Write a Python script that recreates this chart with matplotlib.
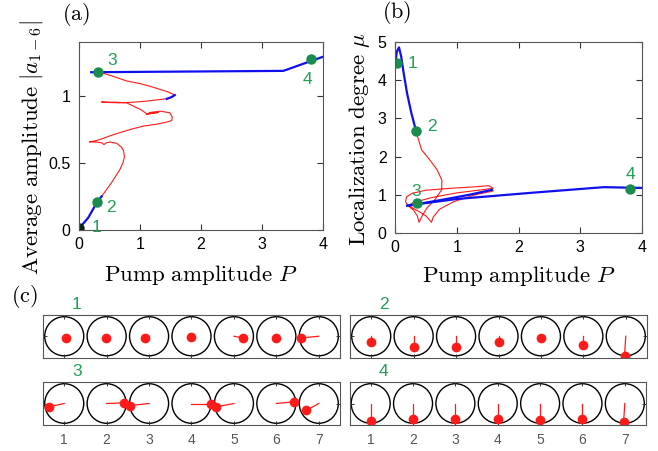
import numpy as np
import matplotlib
matplotlib.use("Agg")
import matplotlib.pyplot as plt
from matplotlib.patches import Circle

plt.rcParams['mathtext.fontset'] = 'cm'
plt.rcParams['font.family'] = ['Liberation Sans', 'DejaVu Sans']

GREEN = '#1a8c4e'
GREEN_TXT = '#1fa055'
RED = '#ff1a1a'
BLUE = '#1010ee'

# ---------- panel (a): average amplitude vs pump ----------
a_blue_low_P = [0.0, 0.15, 0.295, 0.37]
a_blue_low_A = [0.012, 0.09, 0.207, 0.25]
a_red_P = [0.37, 0.45, 0.53, 0.60, 0.67, 0.72, 0.745, 0.73, 0.70, 0.62, 0.51, 0.44, 0.41,
           0.38, 0.29, 0.17, 0.25, 0.34, 0.50, 0.67, 0.85, 1.05, 1.30, 1.45, 1.52, 1.53,
           1.49, 1.33, 1.16, 1.11, 1.20, 1.30, 1.20, 1.11, 1.02, 0.95, 0.78, 0.60, 0.51,
           0.37, 0.45, 0.67, 0.90, 1.11, 1.30, 1.44, 1.52, 1.57, 1.45, 1.33, 1.15, 1.00,
           0.78, 0.62, 0.45, 0.34]
a_red_A = [0.25, 0.30, 0.35, 0.40, 0.45, 0.50, 0.545, 0.59, 0.615, 0.645, 0.655, 0.648, 0.636,
           0.648, 0.655, 0.656, 0.662, 0.673, 0.70, 0.725, 0.75, 0.773, 0.79, 0.805, 0.815, 0.84,
           0.873, 0.885, 0.875, 0.86, 0.868, 0.875, 0.872, 0.865, 0.895, 0.91, 0.947, 0.952, 0.952,
           0.953, 0.950, 0.947, 0.952, 0.96, 0.97, 0.977, 0.99, 1.005, 1.03, 1.047, 1.072, 1.09,
           1.11, 1.135, 1.16, 1.176]
a_blue_mid_P = [1.44, 1.52, 1.57]
a_blue_mid_A = [0.977, 0.99, 1.005]
a_blue_top_P = [0.20, 3.35, 4.0]
a_blue_top_A = [1.175, 1.185, 1.29]
a_pts_P = [0.0, 0.295, 0.31, 3.81]
a_pts_A = [0.012, 0.207, 1.175, 1.27]
a_lab_P = [0.2, 0.44, 0.46, 3.75]
a_lab_A = [0.02, 0.17, 1.26, 1.12]

# ---------- panel (b): localization degree vs pump ----------
b_blue_low_P = [0.0, 0.03, 0.065, 0.10, 0.14, 0.195, 0.265, 0.335, 0.357]
b_blue_low_M = [4.40, 4.75, 4.86, 4.62, 4.19, 3.66, 3.14, 2.71, 2.57]
b_red_P = [0.357, 0.43, 0.56, 0.68, 0.76, 0.755, 0.65, 0.52, 0.44, 0.39,
           0.36, 0.30, 0.22, 0.17, 0.19, 0.28, 0.50, 0.90, 1.30, 1.52, 1.59,
           1.40, 1.00, 0.60, 0.30, 0.22, 0.30, 0.40, 0.50, 0.57, 0.59,
           0.62, 0.72, 0.95, 1.30, 1.59]
b_red_M = [2.57, 2.18, 1.92, 1.66, 1.38, 1.13, 0.88, 0.66, 0.45, 0.28,
           0.45, 0.60, 0.70, 0.82, 0.95, 1.04, 1.12, 1.17, 1.21, 1.24, 1.17,
           1.13, 1.05, 0.93, 0.80, 0.72, 0.64, 0.55, 0.45, 0.32, 0.28,
           0.42, 0.62, 0.82, 1.00, 1.10]
b_blue_mid_P = [0.20, 0.80, 1.20, 1.57]
b_blue_mid_M = [0.71, 0.88, 1.00, 1.13]
b_blue_top_P = [0.20, 1.00, 2.19, 3.38, 4.0]
b_blue_top_M = [0.72, 0.89, 1.05, 1.20, 1.18]
b_pts_P = [0.04, 0.336, 0.35, 3.81]
b_pts_M = [4.45, 2.68, 0.785, 1.16]
b_lab_P = [0.20, 0.52, 0.34, 3.81]
b_lab_M = [4.45, 2.79, 1.09, 1.52]

# ---------- panel (c): oscillator phasors (dx, dy per site) ----------
sites = [1, 2, 3, 4, 5, 6, 7]
st1_dx = [0.04, -0.02, -0.10, -0.02, 0.22, 0.0, -0.43]
st1_dy = [-0.04, -0.04, -0.04, -0.02, -0.04, -0.04, -0.04]
st2_dx = [0.0, 0.0, 0.0, 0.0, 0.0, 0.0, -0.03]
st2_dy = [-0.125, -0.25, -0.25, -0.125, -0.03, -0.20, -0.46]
st3_dx = [-0.37, 0.41, -0.46, 0.45, -0.43, 0.41, -0.29]
st3_dy = [-0.08, 0.015, -0.05, 0.0, -0.08, 0.04, -0.16]
st4_dx = [0.0, 0.0, 0.0, 0.0, 0.0, 0.0, -0.03]
st4_dy = [-0.41, -0.37, -0.37, -0.37, -0.38, -0.36, -0.44]

W, H = 658, 451
fig = plt.figure(figsize=(W / 100, H / 100), dpi=100)


def px_axes(x0, y0, x1, y1):
    return fig.add_axes([x0 / W, 1 - y1 / H, (x1 - x0) / W, (y1 - y0) / H])


def style_main(ax):
    for s in ax.spines.values():
        s.set_color('#555555')
        s.set_linewidth(0.8)
    ax.tick_params(direction='in', top=True, right=True, length=4, width=0.8,
                   color='#333333', labelsize=11.5)
    ax.tick_params(axis='y', pad=6)
    ax.tick_params(axis='x', pad=5)


ax_a = px_axes(79, 42, 323, 230)
ax_a.plot(a_red_P, a_red_A, color=RED, lw=0.8)
ax_a.plot(a_blue_low_P, a_blue_low_A, color=BLUE, lw=1.6)
ax_a.plot(a_blue_mid_P, a_blue_mid_A, color=BLUE, lw=1.6)
ax_a.plot(a_blue_top_P, a_blue_top_A, color=BLUE, lw=1.6)
ax_a.plot(a_pts_P[1:], a_pts_A[1:], 'o', color=GREEN, ms=7.5, mec='none')
ax_a.plot(a_pts_P[:1], a_pts_A[:1], 'o', color='#0c2414', ms=7.5, mec='none')
for i in range(4):
    ax_a.text(a_lab_P[i], a_lab_A[i], str(i + 1), color=GREEN_TXT, fontsize=12.5,
              ha='left' if i < 3 else 'center', va='center')
ax_a.set_xlim(0, 4)
ax_a.set_ylim(0, 1.4)
ax_a.set_xticks([0, 1, 2, 3, 4])
ax_a.set_yticks([0, 0.5, 1])
ax_a.set_yticklabels(['0', '0.5', '1'])
style_main(ax_a)
ax_a.set_xlabel(r'$\mathrm{Pump\ amplitude}\ P$', fontsize=16.5)
ax_a.set_ylabel(r'$\mathrm{Average\ amplitude}\ |a_{1-6}|$', fontsize=16.5)
ax_a.xaxis.set_label_coords(0.5, -0.175)
ax_a.yaxis.set_label_coords(-0.14, 0.44)

ax_b = px_axes(395, 42, 642, 233)
ax_b.plot(b_red_P, b_red_M, color=RED, lw=0.8)
ax_b.plot(b_blue_low_P, b_blue_low_M, color=BLUE, lw=1.6)
ax_b.plot(b_blue_mid_P, b_blue_mid_M, color=BLUE, lw=1.6)
ax_b.plot(b_blue_top_P, b_blue_top_M, color=BLUE, lw=1.6)
ax_b.plot(b_pts_P, b_pts_M, 'o', color=GREEN, ms=7.5, mec='none')
for i in range(4):
    ax_b.text(b_lab_P[i], b_lab_M[i], str(i + 1), color=GREEN_TXT, fontsize=12.5,
              ha='left' if i < 2 else 'center', va='center')
ax_b.set_xlim(0, 4)
ax_b.set_ylim(0, 5)
ax_b.set_xticks([0, 1, 2, 3, 4])
ax_b.set_yticks([0, 1, 2, 3, 4, 5])
style_main(ax_b)
ax_b.set_xlabel(r'$\mathrm{Pump\ amplitude}\ P$', fontsize=16.5)
ax_b.set_ylabel(r'$\mathrm{Localization\ degree}\ \mu$', fontsize=16.5)
ax_b.xaxis.set_label_coords(0.5, -0.16)
ax_b.yaxis.set_label_coords(-0.095, 0.49)

fig.text(76 / W, 1 - 14 / H, r'$\mathrm{(a)}$', fontsize=16, ha='center', va='center')
fig.text(397 / W, 1 - 13 / H, r'$\mathrm{(b)}$', fontsize=16, ha='center', va='center')
fig.text(24 / W, 1 - 296 / H, r'$\mathrm{(c)}$', fontsize=16, ha='center', va='center')

# ---------- panel (c) ----------
boxes = [(43, 315, 340, 357.5, st1_dx, st1_dy, '1', False),
         (350, 315, 647, 357.5, st2_dx, st2_dy, '2', False),
         (43, 382, 340, 425, st3_dx, st3_dy, '3', True),
         (349.5, 382, 646, 425, st4_dx, st4_dy, '4', True)]
for x0, y0, x1, y1, dxs, dys, lab, bottom in boxes:
    ax = px_axes(x0, y0, x1, y1)
    for k, s in enumerate(sites):
        ax.add_patch(Circle((s, 0), 0.46, fill=False, ec='black', lw=1.0))
        ax.plot([s, s + dxs[k]], [0, dys[k]], color=RED, lw=0.9)
        ax.plot(s + dxs[k], dys[k], 'o', color=RED, ms=7, mec='none')
    ax.set_xlim(0.5, 7.5)
    ax.set_ylim(-0.5, 0.5)
    ax.set_xticks(sites)
    ax.set_yticks([0])
    ax.set_yticklabels([])
    for s in ax.spines.values():
        s.set_color('#555555')
        s.set_linewidth(0.8)
    ax.tick_params(direction='in', top=True, right=True, length=3, width=0.7,
                   color='#333333', labelsize=10, labelcolor='#555555', pad=6)
    if not bottom:
        ax.set_xticklabels([])
    ax.text(1.3, 0.56, lab, color=GREEN_TXT, fontsize=12.5, ha='center', va='bottom')

fig.savefig('out.png', dpi=100)
